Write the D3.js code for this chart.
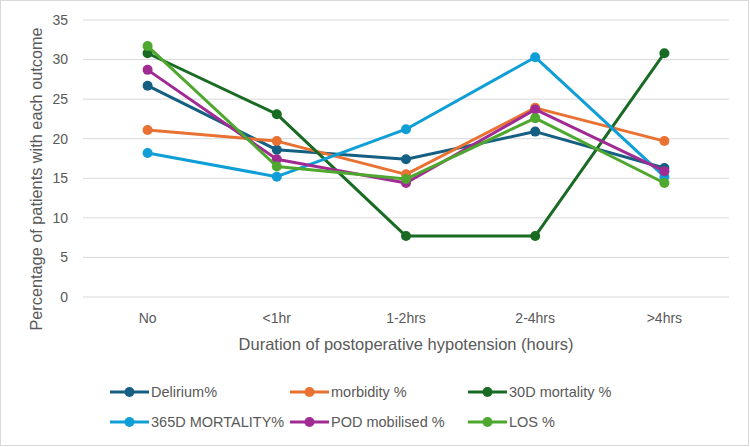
<!DOCTYPE html>
<html>
<head>
<meta charset="utf-8">
<script src="https://cdn.jsdelivr.net/npm/d3@7"></script>
<style>
  body { margin: 0; background: #fff; }
  svg { display: block; font-family: "Liberation Sans", Arial, sans-serif; }
</style>
</head>
<body>
<svg id="chart"></svg>
<script>
var width = 750, height = 447;

// data
const categories = ["No", "<1hr", "1-2hrs", "2-4hrs", ">4hrs"];
const seriesNames = ["Delirium%", "morbidity %", "30D mortality %", "365D MORTALITY%", "POD mobilised %", "LOS %"];
const delirium = [26.7, 18.6, 17.4, 20.9, 16.3];
const morbidity = [21.1, 19.7, 15.5, 23.9, 19.7];
const mortality30 = [30.8, 23.1, 7.7, 7.7, 30.8];
const mortality365 = [18.2, 15.2, 21.2, 30.3, 15.2];
const podMobilised = [28.7, 17.4, 14.4, 23.7, 15.9];
const los = [31.7, 16.5, 14.9, 22.6, 14.4];
const yTicks = [0, 5, 10, 15, 20, 25, 30, 35];
const colors = ["#156082", "#E97132", "#196B24", "#0F9ED5", "#A02B93", "#4EA72E"];

const allSeries = [delirium, morbidity, mortality30, mortality365, podMobilised, los];

const svg = d3.select("#chart").attr("width", width).attr("height", height);

// outer border
svg.append("rect")
    .attr("x", 0.5).attr("y", 0.5)
    .attr("width", width - 2).attr("height", height - 2)
    .attr("fill", "#fff")
    .attr("stroke", "#d9d9d9");

const x = d3.scalePoint().domain(categories).range([83, 729]).padding(0.5);
const y = d3.scaleLinear().domain([0, 35]).range([297, 20]);

// gridlines
svg.append("g")
    .selectAll("line")
    .data(yTicks)
    .enter()
    .append("line")
    .attr("x1", 83).attr("x2", 729)
    .attr("y1", d => y(d)).attr("y2", d => y(d))
    .attr("stroke", "#d9d9d9")
    .attr("stroke-width", 1);

// y tick labels
svg.append("g")
    .selectAll("text")
    .data(yTicks)
    .enter()
    .append("text")
    .attr("x", 68)
    .attr("y", d => y(d))
    .attr("dy", "0.35em")
    .attr("text-anchor", "end")
    .attr("fill", "#595959")
    .style("font-size", "14px")
    .text(d => d);

// x tick labels
svg.append("g")
    .selectAll("text")
    .data(categories)
    .enter()
    .append("text")
    .attr("x", d => x(d))
    .attr("y", 323)
    .attr("text-anchor", "middle")
    .attr("fill", "#595959")
    .style("font-size", "14px")
    .text(d => d);

// axis titles
svg.append("text")
    .attr("x", 406)
    .attr("y", 350)
    .attr("text-anchor", "middle")
    .attr("fill", "#595959")
    .style("font-size", "16.5px")
    .text("Duration of postoperative hypotension (hours)");

svg.append("text")
    .attr("transform", "translate(42,179) rotate(-90)")
    .attr("text-anchor", "middle")
    .attr("fill", "#595959")
    .style("font-size", "16.3px")
    .text("Percentage of patients with each outcome");

// lines + markers
const line = d3.line()
    .x((d, i) => x(categories[i]))
    .y(d => y(d));

const lines = svg.append("g");
allSeries.forEach(function (values, s) {
    lines.append("path")
        .datum(values)
        .attr("d", line)
        .attr("fill", "none")
        .attr("stroke", colors[s])
        .attr("stroke-width", 3)
        .attr("stroke-linejoin", "round");
    lines.selectAll(".m" + s)
        .data(values)
        .enter()
        .append("circle")
        .attr("class", "m" + s)
        .attr("cx", (d, i) => x(categories[i]))
        .attr("cy", d => y(d))
        .attr("r", 5)
        .attr("fill", colors[s]);
});

// legend
const legendX = [110, 290, 468];
const legendY = [392, 422];
const legend = svg.append("g")
    .selectAll("g")
    .data(seriesNames)
    .enter()
    .append("g")
    .attr("transform", (d, i) => "translate(" + legendX[i % 3] + "," + legendY[Math.floor(i / 3)] + ")");

legend.append("line")
    .attr("x1", 0).attr("x2", 39)
    .attr("y1", 0).attr("y2", 0)
    .attr("stroke", (d, i) => colors[i])
    .attr("stroke-width", 3);
legend.append("circle")
    .attr("cx", 19.5).attr("cy", 0).attr("r", 5)
    .attr("fill", (d, i) => colors[i]);
legend.append("text")
    .attr("x", 41)
    .attr("y", 0)
    .attr("dy", "0.35em")
    .attr("fill", "#595959")
    .style("font-size", "14.5px")
    .text(d => d);
</script>
</body>
</html>
